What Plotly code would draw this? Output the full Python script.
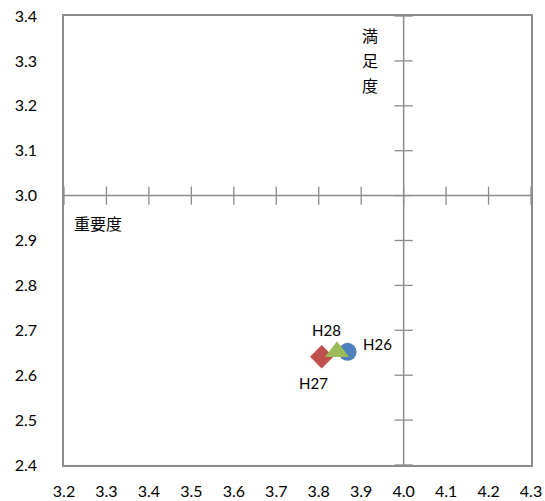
import plotly.graph_objects as go

# Data
years = ["H26", "H27", "H28"]
importance = [3.868, 3.807, 3.843]   # x: 重要度
satisfaction = [2.652, 2.641, 2.652]  # y: 満足度
symbols = ["circle", "diamond", "triangle-up"]
colors = ["#4F81BD", "#C0504D", "#9BBB59"]
label_shift = [(30, 8), (-8, -26), (-10, 22)]  # pixel offsets of labels

x_ticks = [3.2, 3.3, 3.4, 3.5, 3.6, 3.7, 3.8, 3.9, 4.0, 4.1, 4.2, 4.3]
y_ticks = [2.4, 2.5, 2.6, 2.7, 2.8, 2.9, 3.0, 3.1, 3.2, 3.3, 3.4]
x_cross = 4.0
y_cross = 3.0

axis_color = "#8C8C8C"
font_main = "Lato, 'Noto Sans', sans-serif"
font_cjk = "'Noto Sans CJK JP', sans-serif"

fig = go.Figure()

# crossing axes
fig.add_shape(type="line", x0=x_cross, x1=x_cross, y0=y_ticks[0], y1=y_ticks[-1],
              line=dict(color=axis_color, width=1.5), layer="below")
fig.add_shape(type="line", x0=x_ticks[0], x1=x_ticks[-1], y0=y_cross, y1=y_cross,
              line=dict(color=axis_color, width=1.5), layer="below")

# tick marks on crossing axes
fig.add_trace(go.Scatter(
    x=x_ticks, y=[y_cross] * len(x_ticks), mode="markers",
    marker=dict(symbol="line-ns", size=13, line=dict(color=axis_color, width=1.3)),
    hoverinfo="skip", showlegend=False, cliponaxis=False))
fig.add_trace(go.Scatter(
    x=[x_cross] * len(y_ticks), y=y_ticks, mode="markers",
    marker=dict(symbol="line-ew", size=13, line=dict(color=axis_color, width=1.3)),
    hoverinfo="skip", showlegend=False, cliponaxis=False))

# data points
for i, yr in enumerate(years):
    fig.add_trace(go.Scatter(
        x=[importance[i]], y=[satisfaction[i]], mode="markers",
        marker=dict(symbol=symbols[i], size=18 if symbols[i] != "triangle-up" else 21,
                    color=colors[i]),
        name=yr, showlegend=False, cliponaxis=False))
    fig.add_annotation(x=importance[i], y=satisfaction[i], text=yr, showarrow=False,
                       xshift=label_shift[i][0], yshift=label_shift[i][1],
                       font=dict(family=font_main, size=15, color="#000000"))

fig.add_annotation(x=3.22, y=2.94, text="重要度", showarrow=False, xanchor="left",
                   font=dict(family=font_cjk, size=16, color="#000"))
for j, ch in enumerate("満足度"):
    fig.add_annotation(x=3.92, y=3.3, yshift=26 - 25 * j, text=ch, showarrow=False,
                       font=dict(family=font_cjk, size=16, color="#000"))

fig.update_layout(
    width=545, height=501,
    margin=dict(l=64, r=14, t=16, b=36),
    paper_bgcolor="white", plot_bgcolor="white",
    xaxis=dict(range=[x_ticks[0], x_ticks[-1]], tickvals=x_ticks,
               ticktext=[f"{v:.1f}" for v in x_ticks], automargin=False,
               showgrid=False, zeroline=False, showline=True, mirror=True,
               linecolor=axis_color, linewidth=1.5,
               ticks="outside", ticklen=11, tickcolor="rgba(0,0,0,0)",
               tickfont=dict(family=font_main, size=16, color="#000")),
    yaxis=dict(range=[y_ticks[0], y_ticks[-1]], tickvals=y_ticks,
               ticktext=[f"{v:.1f}" for v in y_ticks], automargin=False,
               showgrid=False, zeroline=False, showline=True, mirror=True,
               linecolor=axis_color, linewidth=1.5,
               ticks="outside", ticklen=22, tickcolor="rgba(0,0,0,0)",
               tickfont=dict(family=font_main, size=16, color="#000")),
)

fig.write_html("out.html", config={"displayModeBar": False},
               post_script="document.body.style.margin='0';document.body.style.overflow='hidden';")
